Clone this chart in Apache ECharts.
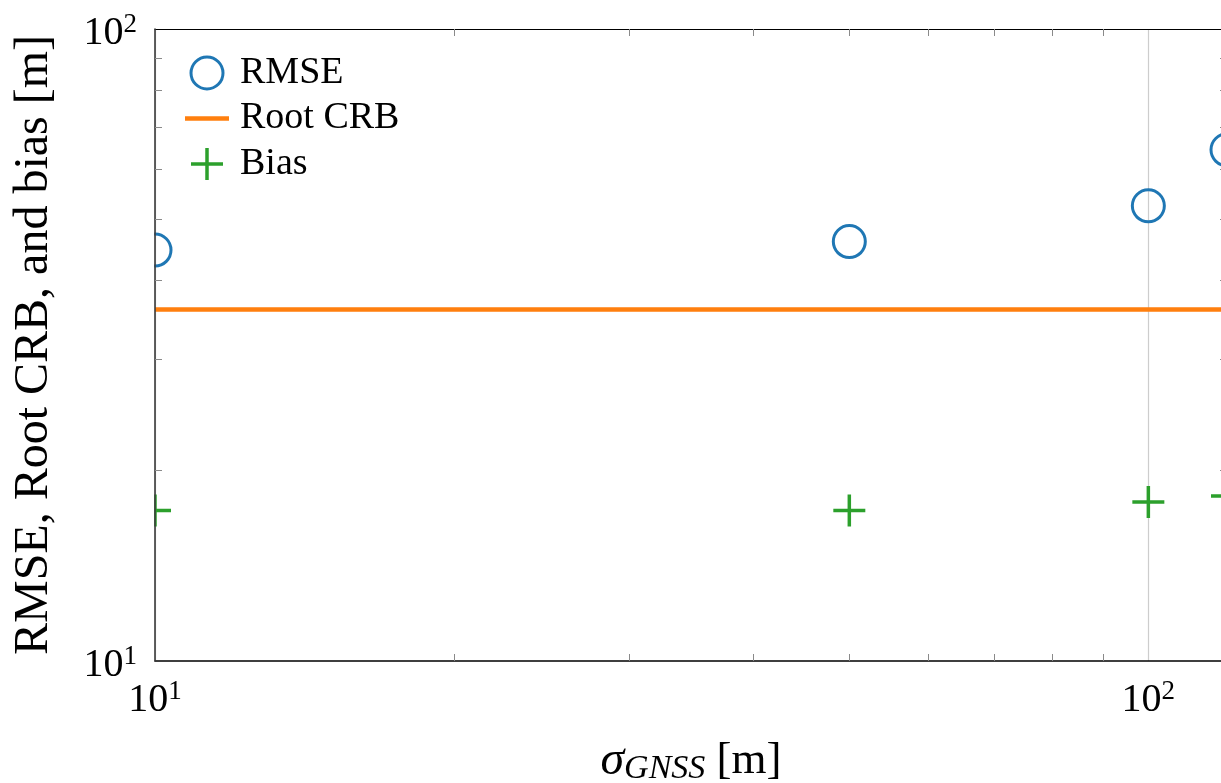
<!DOCTYPE html>
<html>
<head>
<meta charset="utf-8">
<script src="https://cdn.jsdelivr.net/npm/echarts@6/dist/echarts.min.js"></script>
<style>
  html, body { margin: 0; padding: 0; background: #fff; overflow: hidden; }
  #chart { width: 1221px; height: 783px; }
</style>
</head>
<body>
<div id="chart"></div>
<script>
// Estimation error versus GNSS noise level
const sigmaGnss = [10, 50, 100, 120];
const rmse = [44.7, 46.1, 52.5, 64.4];
const rootCrb = [36.0, 36.0, 36.0, 36.0];
const bias = [17.3, 17.3, 17.85, 18.25];

const xRange = [10, 120];
const yRange = [10, 100];
const majorTicks = [10, 100];
const minorTicks = [20, 30, 40, 50, 60, 70, 80, 90];
const seriesNames = ['RMSE', 'Root CRB', 'Bias'];

const FONT = 'Liberation Serif';
const BLUE = '#1f77b4', ORANGE = '#ff7f0e', GREEN = '#2ca02c';
const PLUS = 'path://M14.25,0H17.75V14.25H32V17.75H17.75V32H14.25V17.75H0V14.25H14.25Z';
const BAR = 'path://M0,0H44V4.5H0Z';

function pairs(xs, ys) { return xs.map((x, i) => [x, ys[i]]); }

// Power-of-ten labels, e.g. 10^2
function pow10Label(v) {
  const e = Math.log10(v);
  if (Math.abs(e - Math.round(e)) > 1e-9) return '';
  return '{b|10}{s|' + Math.round(e) + '}';
}
const powRich = {
  b: { fontFamily: FONT, fontSize: 40, color: '#000', lineHeight: 44 },
  s: { fontFamily: FONT, fontSize: 27, color: '#000', lineHeight: 14, verticalAlign: 'top' }
};

// Axis that only carries the inward 2..9 minor ticks of a decade
function minorAxis(position, extent, z) {
  return {
    type: 'log', logBase: 10, position: position, min: extent[0], max: extent[1],
    axisLine: { show: false, onZero: false },
    axisLabel: { show: false },
    splitLine: { show: false },
    axisTick: { show: true, inside: true, length: 7, customValues: minorTicks,
                lineStyle: { color: '#8a8a8a', width: 1 } },
    z: z
  };
}

const chart = echarts.init(document.getElementById('chart'), null, { renderer: 'canvas' });

const option = {
  animation: false,
  backgroundColor: '#fff',
  grid: { left: 155, top: 29, width: 1072, height: 632, containLabel: false, outerBoundsMode: 'none', show: false },
  legend: {
    orient: 'vertical', left: 180, top: 49,
    itemWidth: 44, itemHeight: 32, itemGap: 7.5, symbolKeepAspect: true,
    selectedMode: false,
    textStyle: { fontFamily: FONT, fontSize: 38, color: '#000', lineHeight: 38, padding: [0, 0, 0, 6] },
    data: [
      { name: seriesNames[0], icon: 'circle',
        itemStyle: { color: 'rgba(0,0,0,0)', borderColor: BLUE, borderWidth: 3, opacity: 1 } },
      { name: seriesNames[1], icon: BAR, itemStyle: { color: ORANGE, borderWidth: 0, opacity: 1 } },
      { name: seriesNames[2], icon: PLUS, itemStyle: { color: GREEN, borderWidth: 0, opacity: 1 } }
    ],
    z: 6
  },
  xAxis: [
    {
      type: 'log', logBase: 10, position: 'bottom', min: xRange[0], max: xRange[1],
      axisLine: { show: true, onZero: false, lineStyle: { color: '#000', width: 1.5 } },
      axisTick: { show: false, customValues: majorTicks },
      axisLabel: { formatter: pow10Label, rich: powRich, margin: 17, customValues: majorTicks },
      splitLine: { show: true, lineStyle: { color: '#cdcdcd', width: 1.2 } },
      name: '{g|σ}{sub|GNSS}{u| [m]}',
      nameLocation: 'middle', nameGap: 75,
      nameTextStyle: {
        rich: {
          g: { fontFamily: FONT, fontStyle: 'italic', fontSize: 48, color: '#000', lineHeight: 50 },
          sub: { fontFamily: FONT, fontStyle: 'italic', fontSize: 34, color: '#000', lineHeight: 22, verticalAlign: 'bottom' },
          u: { fontFamily: FONT, fontSize: 45, color: '#000', lineHeight: 50 }
        }
      },
      z: 1
    },
    minorAxis('bottom', xRange, 1),
    Object.assign(minorAxis('top', xRange, 1), {
      axisLine: { show: true, onZero: false, lineStyle: { color: '#000', width: 1.2 } }
    })
  ],
  yAxis: [
    {
      type: 'log', logBase: 10, position: 'left', min: yRange[0], max: yRange[1],
      axisLine: { show: true, onZero: false, lineStyle: { color: '#3a3a3a', width: 1.6 } },
      axisTick: { show: false },
      axisLabel: { formatter: pow10Label, rich: powRich, margin: 18, padding: [9, 0, 0, 0] },
      splitLine: { show: false },
      name: 'RMSE, Root CRB, and bias [m]',
      nameLocation: 'middle', nameGap: 97,
      nameTextStyle: { fontFamily: FONT, fontSize: 48, color: '#000' },
      z: 6
    },
    minorAxis('left', yRange, 6),
    // right edge of the box lies just past the canvas; only its inward ticks show
    minorAxis('right', yRange, 6)
  ],
  series: [
    {
      name: seriesNames[0], type: 'scatter', xAxisIndex: 0, yAxisIndex: 0,
      symbol: 'circle', symbolSize: 32,
      itemStyle: { color: 'rgba(0,0,0,0)', borderColor: BLUE, borderWidth: 3, opacity: 1 },
      emphasis: { disabled: true },
      data: pairs(sigmaGnss, rmse), z: 2
    },
    {
      name: seriesNames[1], type: 'line', xAxisIndex: 0, yAxisIndex: 0,
      symbol: 'none', lineStyle: { color: ORANGE, width: 4.5, opacity: 1 },
      itemStyle: { color: ORANGE },
      emphasis: { disabled: true },
      data: pairs(sigmaGnss, rootCrb), z: 2
    },
    {
      name: seriesNames[2], type: 'scatter', xAxisIndex: 0, yAxisIndex: 0,
      symbol: PLUS, symbolSize: 32,
      itemStyle: { color: GREEN, opacity: 1 },
      emphasis: { disabled: true },
      data: pairs(sigmaGnss, bias), z: 2
    }
  ]
};

chart.setOption(option);

// Markers are clipped at the left edge of the plot box
const plotLeft = chart.convertToPixel({ xAxisIndex: 0 }, xRange[0]);
const plotBottom = chart.convertToPixel({ yAxisIndex: 0 }, yRange[0]);
chart.setOption({
  graphic: [{
    type: 'rect', silent: true, z: 3,
    shape: { x: 0, y: 0, width: plotLeft - 0.8, height: plotBottom },
    style: { fill: '#fff' }
  }]
});
</script>
</body>
</html>
